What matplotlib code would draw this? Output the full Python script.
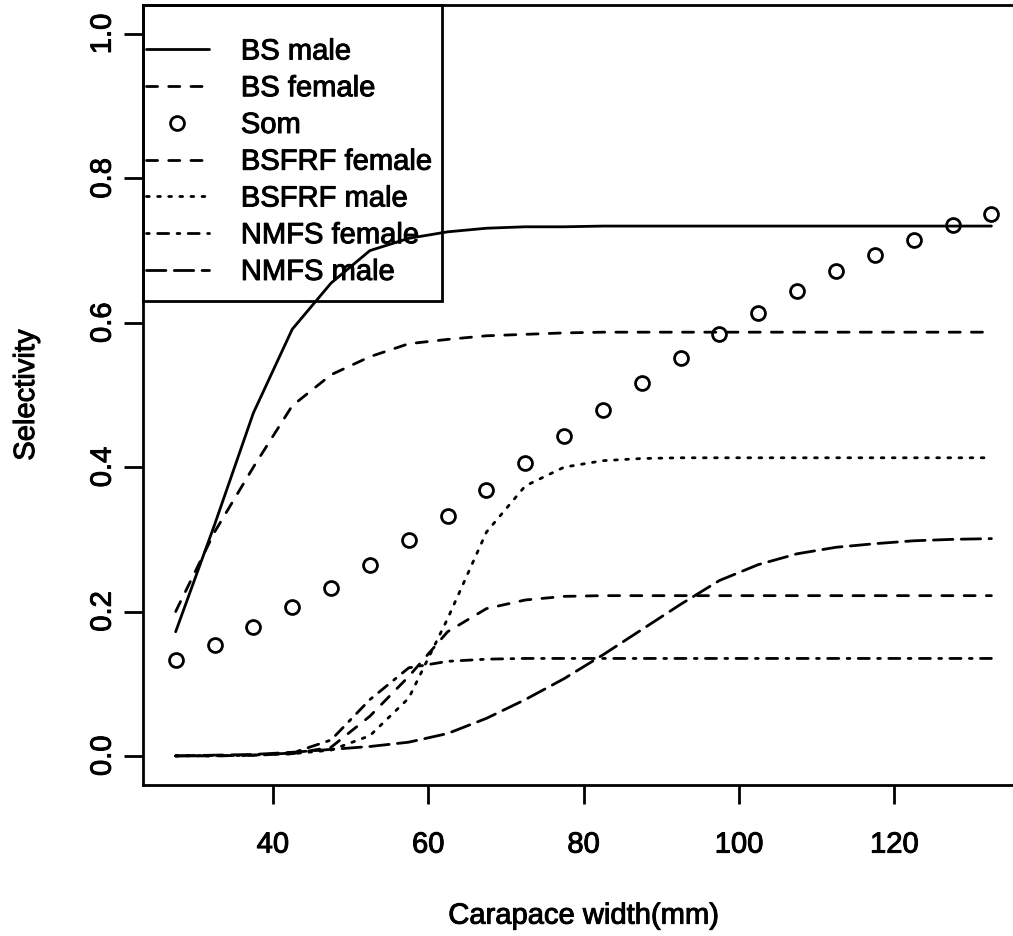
import numpy as np
import matplotlib
matplotlib.use('Agg')
import matplotlib.pyplot as plt
import matplotlib.patheffects as pe
from matplotlib.patches import Rectangle

plt.rcParams['font.family'] = ['Liberation Sans', 'DejaVu Sans']

# carapace width classes (mm)
width = [27.5, 32.5, 37.5, 42.5, 47.5, 52.5, 57.5, 62.5, 67.5, 72.5, 77.5,
         82.5, 87.5, 92.5, 97.5, 102.5, 107.5, 112.5, 117.5, 122.5, 127.5, 132.5]

# selectivity curves
bs_male = [0.172, 0.320, 0.475, 0.591, 0.655, 0.700, 0.717, 0.726, 0.731, 0.733, 0.733,
           0.734, 0.734, 0.734, 0.734, 0.734, 0.734, 0.734, 0.734, 0.734, 0.734, 0.734]
bs_female = [0.200, 0.310, 0.400, 0.485, 0.528, 0.553, 0.571, 0.577, 0.582, 0.584, 0.586,
             0.587, 0.587, 0.587, 0.587, 0.587, 0.587, 0.587, 0.587, 0.587, 0.587, 0.587]
som = [0.133, 0.154, 0.178, 0.206, 0.233, 0.265, 0.299, 0.332, 0.368, 0.406, 0.443,
       0.479, 0.517, 0.551, 0.585, 0.614, 0.644, 0.672, 0.694, 0.715, 0.735, 0.751]
bsfrf_female = [0.0, 0.0, 0.001, 0.003, 0.012, 0.055, 0.110, 0.172, 0.204, 0.216, 0.221,
                0.222, 0.222, 0.222, 0.222, 0.222, 0.222, 0.222, 0.222, 0.222, 0.222, 0.222]
bsfrf_male = [0.0, 0.0005, 0.001, 0.003, 0.008, 0.028, 0.080, 0.190, 0.310, 0.374, 0.400,
              0.409, 0.412, 0.413, 0.413, 0.413, 0.413, 0.413, 0.413, 0.413, 0.413, 0.413]
nmfs_female = [0.0, 0.0, 0.001, 0.004, 0.022, 0.078, 0.122, 0.131, 0.134, 0.135, 0.135,
               0.135, 0.135, 0.135, 0.135, 0.135, 0.135, 0.135, 0.135, 0.135, 0.135, 0.135]
nmfs_male = [0.0, 0.001, 0.002, 0.005, 0.009, 0.013, 0.019, 0.031, 0.052, 0.078, 0.107,
             0.140, 0.175, 0.210, 0.243, 0.265, 0.280, 0.289, 0.294, 0.298, 0.300, 0.301]

xticks = [40, 60, 80, 100, 120]
yticks = [0.0, 0.2, 0.4, 0.6, 0.8, 1.0]

lw = 2.0
fs = 21
fig = plt.figure(figsize=(10.13, 9.37), dpi=100)
ax = fig.add_axes([0.1412, 0.1614, 0.8697, 0.832])

kw = dict(color='black', lw=lw, dash_capstyle='round', solid_capstyle='round')
h1, = ax.plot(width, bs_male, linestyle='-', **kw)
h2, = ax.plot(width, bs_female, linestyle=(0, (4, 4)), **kw)
h3, = ax.plot(width, som, linestyle='none', marker='o', ms=10, mew=2,
              mfc='none', mec='black')
h4, = ax.plot(width, bsfrf_female, linestyle=(0, (4, 4)), **kw)
h5, = ax.plot(width, bsfrf_male, linestyle=(0, (1, 3)), **kw)
h6, = ax.plot(width, nmfs_female, linestyle=(0, (1, 3, 4, 3)), **kw)
h7, = ax.plot(width, nmfs_male, linestyle=(0, (7, 3)), **kw)

ax.set_xlim(23.3, 136.7)
ax.set_ylim(-0.04, 1.04)
ax.set_xticks(xticks)
ax.set_xticklabels([str(t) for t in xticks])
ax.set_yticks(yticks)
ax.set_yticklabels(['%.1f' % t for t in yticks], rotation=90, va='center')
ax.tick_params(direction='out', length=14, width=lw, labelsize=fs)
ax.tick_params(axis='x', pad=19)
ax.tick_params(axis='y', pad=5)
for s in ax.spines.values():
    s.set_linewidth(lw)

ax.set_xlabel('Carapace width(mm)', fontsize=fs, labelpad=31)
ax.set_ylabel('Selectivity', fontsize=fs, labelpad=35)

# legend box in the top left corner, like R's legend("topleft")
ax.add_patch(Rectangle((0, 0.6206), 0.3394, 0.3794, transform=ax.transAxes,
                       fill=False, lw=lw, ec='black', clip_on=False, zorder=5))
leg = ax.legend([h1, h2, h3, h4, h5, h6, h7],
                ['BS male', 'BS female', 'Som', 'BSFRF female', 'BSFRF male',
                 'NMFS female', 'NMFS male'],
                loc='upper left', bbox_to_anchor=(0.0034, 0.9586), frameon=False,
                fontsize=fs, handlelength=2.15, handletextpad=1.1, labelspacing=0.30,
                borderpad=0, borderaxespad=0, numpoints=1)

# scanned original has heavy strokes on the text
heavy = [pe.withStroke(linewidth=0.7, foreground='black')]
for t in (ax.get_xticklabels() + ax.get_yticklabels() + leg.get_texts()
          + [ax.xaxis.label, ax.yaxis.label]):
    t.set_path_effects(heavy)

fig.savefig('out.png', dpi=100)
